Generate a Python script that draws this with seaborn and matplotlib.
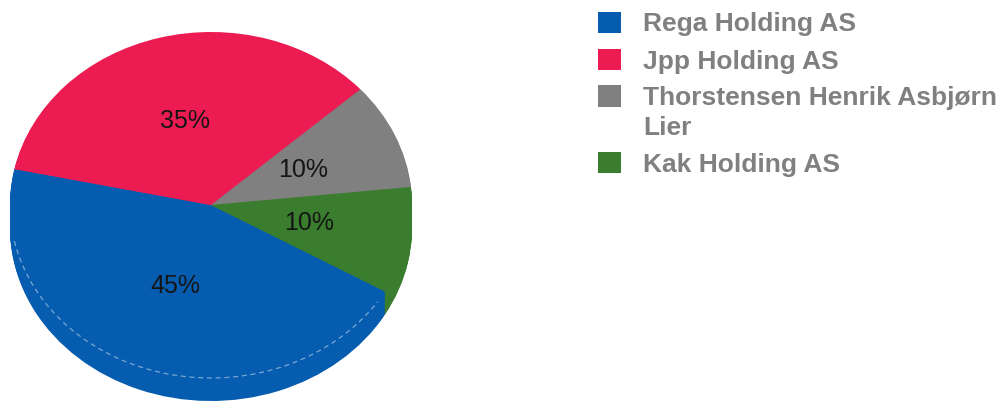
import matplotlib
matplotlib.use("Agg")
import matplotlib.pyplot as plt
import seaborn as sns
from matplotlib.patches import Arc, Rectangle
from matplotlib.legend_handler import HandlerPatch

# ---- data ----
owners = ["Rega Holding AS", "Jpp Holding AS", "Thorstensen Henrik Asbjørn\nLier", "Kak Holding AS"]
shares = [45, 35, 10, 10]
colors = ["#065DAF", "#EC1B52", "#808080", "#3A7D2E"]

sns.set_theme(style="white")
plt.rcParams["font.family"] = ["Liberation Sans", "DejaVu Sans"]

W, H = 1007, 403
fig = plt.figure(figsize=(W / 100, H / 100), dpi=100)
fig.patch.set_facecolor("white")
ax = fig.add_axes([10 / W, 0, 402 / W, 1])
palette = sns.color_palette(colors)

# extruded side of the tilted pie: stack copies from deepest to shallowest
depth = 0.133
steps = 24
for i in range(steps, 0, -1):
    off = depth * i / steps
    ax.pie(shares, colors=palette, startangle=-30, counterclock=False,
           center=(0, -off), wedgeprops=dict(linewidth=0))

# top face
wedges, texts, autotexts = ax.pie(
    shares, colors=palette, startangle=-30, counterclock=False,
    autopct="%.0f%%", pctdistance=0.5,
    wedgeprops=dict(linewidth=0),
    textprops=dict(color="#151515", fontsize=18),
)

# faint rim of the top face on the front side
ax.add_patch(Arc((0, 0), 2, 2, theta1=192, theta2=326, linestyle=(0, (4, 3)),
                 color="white", alpha=0.45, lw=0.9))

ax.set_aspect("auto")
ax.set_xlim(-1, 1)
ax.set_ylim(-198 / 173, 205 / 173)
ax.axis("off")

LINESP = 1.3


def first_line_square(legend, orig_handle, xdescent, ydescent, width, height, fontsize):
    # align the square with the first line of a wrapped label
    return Rectangle((-xdescent, -ydescent + 0.5 * LINESP * fontsize), width, height)


handler_map = {wedges[2]: HandlerPatch(patch_func=first_line_square)}

leg = fig.legend(
    wedges, owners, loc="upper left",
    bbox_to_anchor=(598 / W, 1 - 11.5 / H),
    frameon=False,
    prop=dict(weight="bold", size=19, family=["Liberation Sans", "DejaVu Sans"]),
    labelcolor="#808080",
    handlelength=0.87, handleheight=0.87, handletextpad=0.83,
    labelspacing=0.47, borderpad=0, borderaxespad=0,
    handler_map=handler_map,
)
for t in leg.get_texts():
    t.set_linespacing(LINESP)

fig.savefig("out.png", dpi=100)
